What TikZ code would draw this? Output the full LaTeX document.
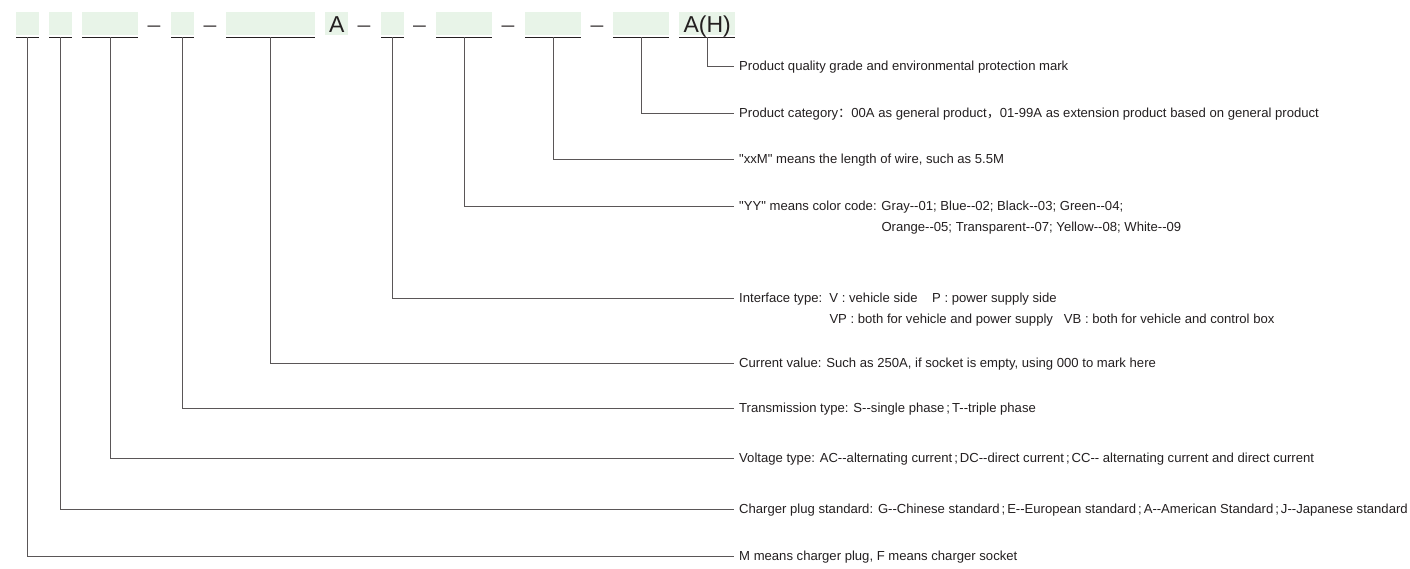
\documentclass[tikz,border=0pt]{standalone}
\usepackage{fontspec}
\setmainfont{Liberation Sans}
\newfontfamily\cjk{Noto Sans CJK SC}
\definecolor{boxfill}{HTML}{E8F4E8}
\definecolor{linec}{HTML}{5A5657}
\definecolor{txt}{HTML}{231F20}
\newcommand\hh{-\kern0pt-}
\newcommand\fw[1]{{\cjk #1}}
\newcommand\semi{\hspace{2pt};\hspace{2pt}}
\newcommand\dq{\XeTeXglyph\XeTeXcharglyph34\relax}
\begin{document}
\begin{tikzpicture}[x=1pt,y=-1pt,
  seg/.style={fill=boxfill, inner sep=0pt, minimum height=23pt, anchor=north west},
  uline/.style={draw=txt, line width=0.9pt},
  conn/.style={draw=linec, line width=0.8pt},
  big/.style={font=\fontsize{23}{23}\selectfont, text=txt, inner sep=0pt, anchor=base},
  sep/.style={font=\fontsize{23}{23}\selectfont, text=linec, inner sep=0pt, anchor=base},
  lab/.style={font=\fontsize{13.1}{15}\selectfont, text=txt, anchor=west, inner ysep=0pt, inner xsep=5pt, text height=9.4pt, text depth=0pt}]
\useasboundingbox (0,0) rectangle (1410,568);
% segment boxes
\node[seg, minimum width=23pt] (b1) at (16,12) {};
\node[seg, minimum width=23pt] (b2) at (49,12) {};
\node[seg, minimum width=56pt] (b3) at (82,12) {};
\node[seg, minimum width=23pt] (b4) at (171,12) {};
\node[seg, minimum width=89pt] (b5) at (226,12) {};
\node[seg, minimum width=23pt] (bA) at (325,12) {};
\node[seg, minimum width=23pt] (b6) at (381,12) {};
\node[seg, minimum width=56pt] (b7) at (436,12) {};
\node[seg, minimum width=56pt] (b8) at (525,12) {};
\node[seg, minimum width=56pt] (b9) at (613,12) {};
\node[seg, minimum width=56pt] (bH) at (679,12) {};
\node[big] (tA) at ([yshift=3pt]bA.south) {A};
\node[big] (tH) at ([yshift=3pt]bH.south) {A(H)};
% separators
\node[sep] (d1) at (154,32) {–};
\node[sep] (d2) at (210,32) {–};
\node[sep] (d3) at (364,32) {–};
\node[sep] (d4) at (419.5,32) {–};
\node[sep] (d5) at (508,32) {–};
\node[sep] (d6) at (597,32) {–};
% underlines
\foreach \n in {b1,b2,b3,b4,b5,b6,b7,b8,b9,bH}
  \draw[uline] ([yshift=-2pt]\n.south west) -- ([yshift=-2pt]\n.south east);
% labels
\node[lab] (l10) at (734,66) {Product quality grade and environmental protection mark};
\node[lab] (l9) at (734,113) {Product category\fw{：}00A as general product\fw{，}01-99A as extension product based on general product};
\node[lab] (l8) at (734,159) {\dq xxM\dq{} means the length of wire, such as 5.5M};
\node[lab] (l7) at (734,206) {\dq YY\dq{} means color code: Gray\hh01; Blue\hh02; Black\hh03; Green\hh04;};
\node[lab, anchor=base west] (l7b) at ([yshift=-21pt]l7.base west) {\phantom{\dq YY\dq{} means color code: }Orange\hh05; Transparent\hh07; Yellow\hh08; White\hh09};
\node[lab] (l6) at (734,298) {Interface type:~~V : vehicle side~~~~P : power supply side};
\node[lab, anchor=base west] (l6b) at ([yshift=-21pt]l6.base west) {\phantom{Interface type:~~}VP : both for vehicle and power supply~~~VB : both for vehicle and control box};
\node[lab] (l5) at (734,363) {Current value: Such as 250A, if socket is empty, using 000 to mark here};
\node[lab] (l4) at (734,408) {Transmission type: S\hh single phase\semi T\hh triple phase};
\node[lab] (l3) at (734,458) {Voltage type: AC\hh alternating current\semi DC\hh direct current\semi CC\hh{} alternating current and direct current};
\node[lab] (l2) at (734,509) {Charger plug standard: G\hh Chinese standard\semi E\hh European standard\semi A\hh American Standard\semi J\hh Japanese standard};
\node[lab] (l1) at (734,556) {M means charger plug, F means charger socket};
% connectors
\draw[conn] ([yshift=-2pt]bH.south) |- (l10.west);
\draw[conn] ([yshift=-2pt]b9.south) |- (l9.west);
\draw[conn] ([yshift=-2pt]b8.south) |- (l8.west);
\draw[conn] ([yshift=-2pt]b7.south) |- (l7.west);
\draw[conn] ([yshift=-2pt]b6.south) |- (l6.west);
\draw[conn] ([yshift=-2pt]b5.south) |- (l5.west);
\draw[conn] ([yshift=-2pt]b4.south) |- (l4.west);
\draw[conn] ([yshift=-2pt]b3.south) |- (l3.west);
\draw[conn] ([yshift=-2pt]b2.south) |- (l2.west);
\draw[conn] ([yshift=-2pt]b1.south) |- (l1.west);
\end{tikzpicture}
\end{document}
